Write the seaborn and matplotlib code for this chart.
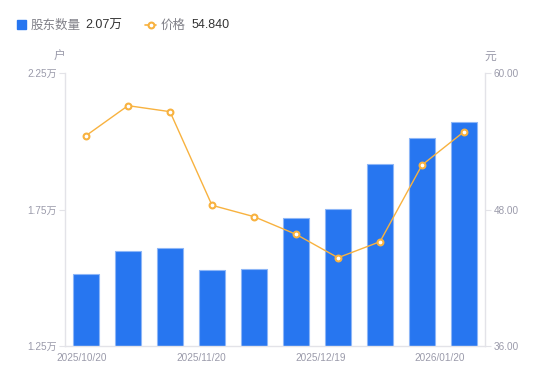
import matplotlib
matplotlib.use("Agg")
import matplotlib.pyplot as plt
import seaborn as sns
import pandas as pd
from matplotlib.patches import Rectangle
from matplotlib.lines import Line2D

# ---- data ----
idx = list(range(10))
date_labels = ["2025/10/20", "2025/11/20", "2025/12/19", "2026/01/20"]
holders = [1.513, 1.599, 1.610, 1.528, 1.532, 1.719, 1.752, 1.916, 2.012, 2.07]  # 万户
price = [54.49, 57.13, 56.60, 48.37, 47.37, 45.82, 43.76, 45.17, 51.91, 54.84]
left_ticks = [1.25, 1.75, 2.25]
left_tick_labels = ["1.25万", "1.75万", "2.25万"]
right_ticks = [36, 48, 60]
right_tick_labels = ["36.00", "48.00", "60.00"]
legend_holders = "2.07万"
legend_price = "54.840"

sns.set_theme(style="white")
plt.rcParams["font.family"] = ["Liberation Sans", "Noto Sans CJK SC", "DejaVu Sans"]

BLUE = "#2776F0"
ORANGE = "#F8B23F"
GRAY = "#9A9AAA"
AXIS = "#E3E3E8"
TS = 7.2

W, H = 550, 381
fig = plt.figure(figsize=(W / 100, H / 100), dpi=100)
ax = fig.add_axes([65 / W, (H - 346) / H, 420 / W, 273 / H])

df = pd.DataFrame({"idx": idx, "holders": holders, "price": price})
sns.barplot(data=df, x="idx", y="holders", ax=ax, color=BLUE, width=0.6,
            saturation=1, edgecolor="#8DB6F7", linewidth=0.8)
ax.set_xlim(-0.5, 9.5)
ax.set_ylim(1.25, 2.25)
ax.set_yticks(left_ticks)
ax.set_yticklabels(left_tick_labels)
ax.set_xlabel("")
ax.set_ylabel("")

# x tick label positions (layout)
ax.set_xticks([-0.1, 2.74, 5.58, 8.43])
ax.set_xticklabels(date_labels)
ax.tick_params(axis="x", length=0, pad=5, labelsize=TS, labelcolor=GRAY)
ax.tick_params(axis="y", length=4, width=0.8, color=AXIS, pad=2,
               labelsize=TS, labelcolor=GRAY, direction="out")

for s in ["top", "right"]:
    ax.spines[s].set_visible(False)
for s in ["left", "bottom"]:
    ax.spines[s].set_color(AXIS)
    ax.spines[s].set_linewidth(1)

ax2 = ax.twinx()
sns.lineplot(data=df, x="idx", y="price", ax=ax2, color=ORANGE, linewidth=1,
             marker="o", markersize=4.2, markerfacecolor="white",
             markeredgecolor=ORANGE, markeredgewidth=1.5)
ax2.set_ylim(36, 60)
ax2.set_xlim(-0.5, 9.5)
ax2.set_yticks(right_ticks)
ax2.set_yticklabels(right_tick_labels)
ax2.set_ylabel("")
ax2.tick_params(axis="y", length=4, width=0.8, color=AXIS, pad=2,
                labelsize=TS, labelcolor=GRAY, direction="out")
for s in ["top", "left", "bottom"]:
    ax2.spines[s].set_visible(False)
ax2.spines["right"].set_color(AXIS)
ax2.spines["right"].set_linewidth(1)

# unit labels
fig.text(59 / W, 1 - 57 / H, "户", ha="center", va="center", fontsize=8.5, color=GRAY)
fig.text(490 / W, 1 - 57 / H, "元", ha="center", va="center", fontsize=8.5, color=GRAY)

# legend
ly = 1 - 24.5 / H
ty = 1 - 25.5 / H
fig.patches.append(Rectangle((17 / W, 1 - 28.5 / H), 8.5 / W, 8.5 / H,
                             transform=fig.transFigure, color=BLUE, figure=fig))
fig.text(31 / W, ty, "股东数量", ha="left", va="center", fontsize=9, color="#808088")
fig.text(85 / W, ty, legend_holders, ha="left", va="center", fontsize=9, color="#333333")
fig.lines.append(Line2D([145 / W, 156 / W], [ly, ly], transform=fig.transFigure,
                        color=ORANGE, linewidth=1.2, figure=fig))
fig.lines.append(Line2D([150.5 / W], [ly], transform=fig.transFigure, marker="o",
                        markersize=4.2, markerfacecolor="white", markeredgecolor=ORANGE,
                        markeredgewidth=1.5, figure=fig))
fig.text(161 / W, ty, "价格", ha="left", va="center", fontsize=9, color="#808088")
fig.text(192 / W, ty, legend_price, ha="left", va="center", fontsize=9, color="#333333")

fig.savefig("out.png", dpi=100)
